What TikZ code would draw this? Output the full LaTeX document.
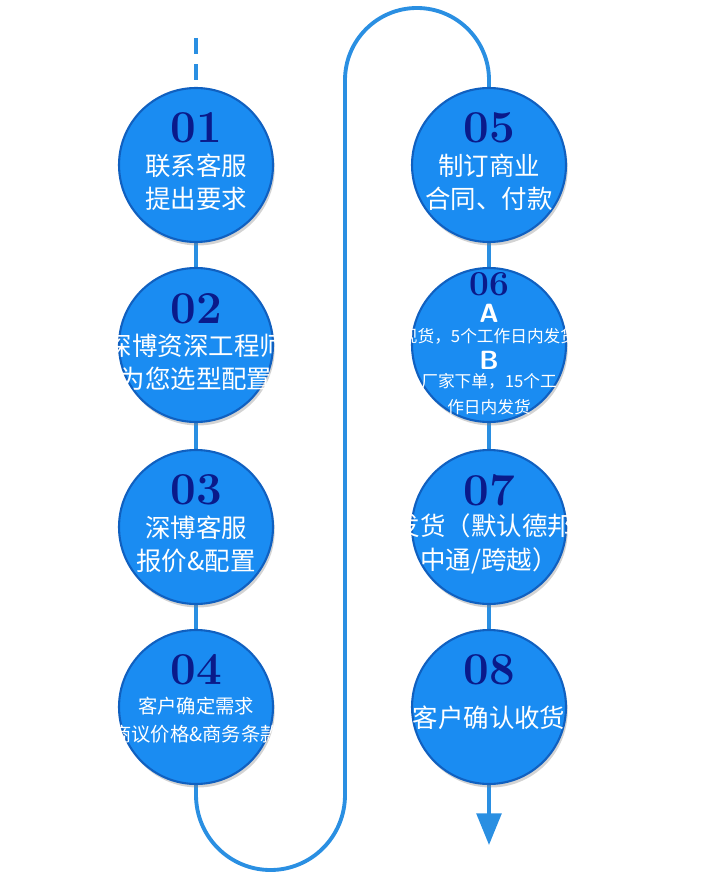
\documentclass[tikz,border=0pt]{standalone}
\usepackage{fontspec}
\newfontfamily\cjk{Noto Sans CJK SC}
\usetikzlibrary{arrows.meta,shadows}
\definecolor{linec}{HTML}{2A8FE2}
\definecolor{circc}{HTML}{1A8CF2}
\definecolor{edgec}{HTML}{1060C0}
\definecolor{numc}{HTML}{0A1A8A}
\tikzset{
  stepc/.style={circle,minimum size=3.08cm,fill=circc,draw=edgec,line width=1.2pt,
    drop shadow={opacity=0.35,shadow xshift=1pt,shadow yshift=-2pt},inner sep=0pt},
  num/.style={text=numc,font=\fontsize{26}{26}\selectfont\bfseries},
  conn/.style={draw=linec,line width=2.2pt},
  lbl/.style={text=white,font=\cjk\fontsize{14.5}{19}\selectfont,align=center}
}
\begin{document}
\begin{tikzpicture}[x=0.02cm,y=-0.02cm]
\useasboundingbox (0,0) rectangle (713,874);
\coordinate (t0) at (196,38);
\coordinate (t1) at (196,88);
\coordinate (b4) at (196,795);
\coordinate (u2) at (345,80);
\coordinate (end) at (489,845);
\draw[conn,dash pattern=on 9pt off 6pt] (t0) -- (t1);
\draw[conn] (t1) -- (b4) arc[start angle=180,end angle=360,x radius=74.5,y radius=-75] -- (u2)
  arc[start angle=180,end angle=0,x radius=72,y radius=-72] -- (489,815);
\draw[draw=linec,line width=2.2pt,-{Triangle[length=18pt,width=14pt]}] (489,800) -- (end);
\node[stepc] (c1) at (196,165) {};
\node[stepc] (c2) at (196,345) {};
\node[stepc] (c3) at (196,527) {};
\node[stepc] (c4) at (196,707) {};
\node[stepc] (c5) at (489,165) {};
\node[stepc] (c6) at (489,345) {};
\node[stepc] (c7) at (489,527) {};
\node[stepc] (c8) at (489,707) {};
\node[num] (n1) at (196,128) {01};
\node[lbl] (l1) at (196,182) {联系客服\\提出要求};
\node[num] (n2) at (196,309) {02};
\node[lbl] (l2) at (196,362) {深博资深工程师\\为您选型配置};
\node[num] (n3) at (196,490) {03};
\node[lbl] (l3) at (196,544) {深博客服\\报价\&配置};
\node[num] (n4) at (196,670) {04};
\node[lbl,font=\cjk\fontsize{11}{16}\selectfont] (l4) at (196,720) {客户确定需求\\商议价格\&商务条款};
\node[num] (n5) at (489,128) {05};
\node[lbl] (l5) at (489,182) {制订商业\\合同、付款};
\node[num,font=\fontsize{20}{20}\selectfont\bfseries] (n6) at (489,284) {06};
\node[lbl,font=\sffamily\bfseries\fontsize{15}{15}\selectfont] (a6) at (489,313) {A};
\node[lbl,font=\cjk\fontsize{9.5}{12}\selectfont] (l6a) at (489,336) {现货，5个工作日内发货};
\node[lbl,font=\sffamily\bfseries\fontsize{15}{15}\selectfont] (b6) at (489,360) {B};
\node[lbl,font=\cjk\fontsize{9.5}{15}\selectfont] (l6b) at (489,394) {厂家下单，15个工\\作日内发货};
\node[num] (n7) at (489,490) {07};
\node[lbl] (l7) at (489,544) {发货（默认德邦/\\中通/跨越）};
\node[num] (n8) at (489,670) {08};
\node[lbl] (l8) at (489,718) {客户确认收货};
\end{tikzpicture}
\end{document}
